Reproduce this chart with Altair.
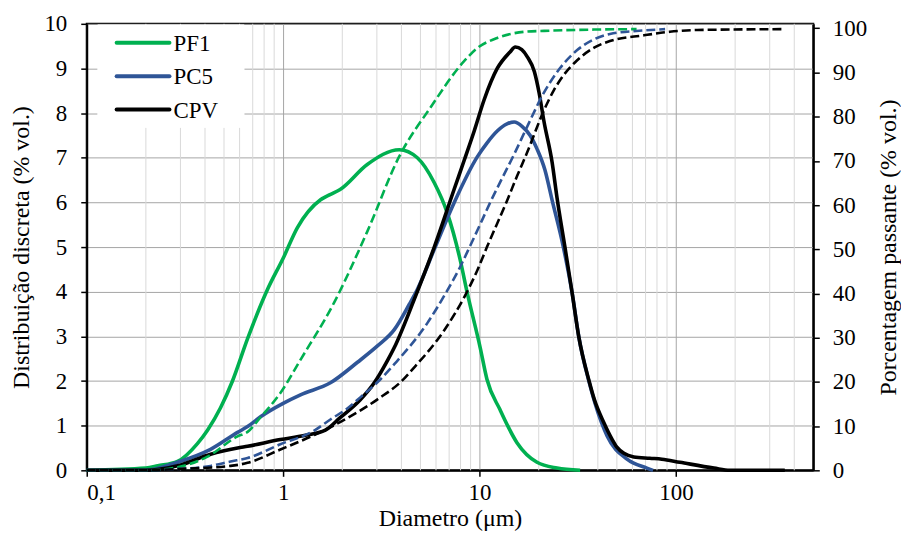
import altair as alt
import pandas as pd

series_names = ["PF1", "PC5", "CPV"]
series_colors = ["#00B050", "#2F5597", "#000000"]

# Discrete distribution (% vol.) - left axis
pf1_d_x = [0.1, 0.2, 0.23, 0.29, 0.366, 0.412, 0.48, 0.552, 0.659, 0.832, 1.0, 1.18, 1.55, 1.72, 1.95,
           2.68, 3.9, 4.82, 5.88, 6.84, 7.96, 8.65, 10.07, 10.9, 12.7, 15.5, 19.6, 24.8, 32.5]
pf1_d_y = [0, 0.05, 0.1, 0.2, 0.6, 0.9, 1.4, 2.0, 2.95, 4.05, 4.75, 5.43, 6.06, 6.17, 6.29,
           6.85, 7.18, 7.0, 6.44, 5.77, 4.72, 3.98, 2.75, 2.04, 1.36, 0.62, 0.18, 0.05, 0.0]

pc5_d_x = [0.1, 0.2, 0.29, 0.427, 0.586, 0.659, 0.767, 1.0, 1.225, 1.74, 2.39, 3.01, 3.68, 4.39, 4.82,
           5.88, 7.43, 9.73, 10.9, 12.3, 13.8, 15.0, 16.5, 18.1, 19.6, 21.5, 23.4, 26.7, 29.6, 32.0,
           36.1, 38.7, 44.6, 56.3, 71.1, 76.4]
pc5_d_y = [0, 0, 0.18, 0.47, 0.85, 0.98, 1.2, 1.5, 1.69, 1.96, 2.42, 2.78, 3.15, 3.72, 4.05,
           4.95, 6.0, 7.02, 7.33, 7.6, 7.76, 7.8, 7.7, 7.5, 7.2, 6.73, 6.05, 5.0, 3.97, 2.99,
           1.98, 1.5, 0.77, 0.25, 0.05, 0]

cpv_d_x = [0.1, 0.2, 0.29, 0.427, 0.586, 0.659, 0.968, 1.28, 1.64, 1.95, 2.47, 2.91, 3.39, 3.68, 4.65,
           5.88, 7.43, 8.36, 9.39, 10.55, 12.3, 14.3, 15.2, 16.4, 17.5, 19.0, 20.1, 21.3, 23.4, 24.8,
           27.2, 29.6, 32.0, 36.1, 38.3, 43.0, 47.2, 50.0, 54.3, 61.0, 73.6, 84.7, 104.7, 156, 188, 358]
cpv_d_y = [0, 0, 0.1, 0.36, 0.5, 0.54, 0.69, 0.78, 0.9, 1.18, 1.58, 1.96, 2.45, 2.75, 3.83,
           5.0, 6.3, 6.95, 7.6, 8.3, 9.0, 9.37, 9.48, 9.42, 9.26, 8.93, 8.45, 7.8, 6.9, 6.1,
           5.0, 3.97, 2.99, 2.0, 1.6, 1.06, 0.7, 0.52, 0.38, 0.3, 0.27, 0.25, 0.18, 0.05, 0, 0]

# Cumulative passing (% vol.) - right axis
pf1_c_x = [0.1, 0.2, 0.29, 0.412, 0.586, 0.659, 0.767, 0.968, 1.225, 1.82, 2.68, 3.9, 5.61, 8.36,
           9.73, 12.3, 17.0, 21.3, 38.3, 63]
pf1_c_y = [0, 0, 0.7, 3.1, 7.7, 8.7, 12, 17.5, 25, 38, 54, 71, 82, 92.6,
           95.5, 97.8, 99.2, 99.4, 99.7, 99.8]

pc5_c_x = [0.1, 0.2, 0.29, 0.427, 0.54, 0.659, 0.968, 1.44, 1.74, 2.12, 2.47, 3.13, 3.68, 5.42,
           6.61, 7.96, 8.96, 10.3, 11.3, 13.0, 15.0, 17.5, 21.3, 25.7, 31.3, 38.3, 46.1, 68.7, 88]
pc5_c_y = [0, 0, 0.3, 1.0, 2.0, 2.8, 5.9, 9.0, 11.5, 14.0, 16.5, 20.6, 24.0, 33.3,
           39.5, 46, 50.8, 56.6, 60.5, 66, 71.5, 77.8, 85.5, 91.0, 95, 97.5, 98.7, 99.5, 99.8]

cpv_c_x = [0.1, 0.2, 0.29, 0.54, 0.659, 0.968, 1.44, 2.12, 3.01, 4.14, 4.44, 6.61, 8.36, 9.73,
           10.9, 13.8, 15.5, 17.5, 21.3, 23.9, 26.9, 31.3, 38.3, 46.1, 68.7, 93, 128, 358]
cpv_c_y = [0, 0, 0.3, 1.0, 1.7, 4.7, 8.0, 11.8, 16.0, 20.8, 22.3, 31.7, 39.2, 45.2,
           50.5, 61, 66.5, 72, 81.5, 86, 89.5, 92.7, 95.6, 97.1, 98.4, 99.2, 99.6, 99.8]

x_major_ticks = [0.1, 1, 10, 100]
x_minor_grid = [0.2, 0.3, 0.4, 0.5, 0.6, 0.7, 0.8, 0.9,
                2, 3, 4, 5, 6, 7, 8, 9,
                20, 30, 40, 50, 60, 70, 80, 90,
                200, 300, 400]
y_left_ticks = list(range(0, 11))
y_right_ticks = list(range(0, 101, 10))

FONT = "Liberation Serif"
LABEL_SIZE = 23
TITLE_SIZE = 24


def long(name, xs, ys, col):
    return pd.DataFrame({"serie": name, "d": xs, col: ys})


disc = pd.concat([long("PF1", pf1_d_x, pf1_d_y, "v"),
                  long("PC5", pc5_d_x, pc5_d_y, "v"),
                  long("CPV", cpv_d_x, cpv_d_y, "v")], ignore_index=True)
cum = pd.concat([long("PF1", pf1_c_x, pf1_c_y, "p"),
                 long("PC5", pc5_c_x, pc5_c_y, "p"),
                 long("CPV", cpv_c_x, cpv_c_y, "p")], ignore_index=True)
minor = pd.DataFrame({"d": x_minor_grid})
legend_df = pd.DataFrame({"serie": series_names})

xscale = alt.Scale(type="log", domain=[0.1, 500], nice=False)
color = alt.Color("serie:N", scale=alt.Scale(domain=series_names, range=series_colors), legend=None)

xaxis = alt.Axis(values=x_major_ticks, title="Diametro (μm)",
                 labelExpr="replace(format(datum.value, '~g'), '.', ',')",
                 grid=True, gridColor="#A6A6A6", gridWidth=1,
                 domainColor="black", domainWidth=2, tickColor="black", tickWidth=1.5, tickSize=6,
                 labelFont=FONT, labelFontSize=LABEL_SIZE, labelColor="black", labelPadding=5,
                 titleFont=FONT, titleFontSize=TITLE_SIZE, titleFontWeight="normal", titleColor="black",
                 titlePadding=2)

grid_layer = alt.Chart(minor).mark_rule(color="#D9D9D9", strokeWidth=1).encode(
    x=alt.X("d:Q", scale=xscale, axis=xaxis)
)

disc_layer = alt.Chart(disc).mark_line(strokeWidth=3.6, interpolate="monotone").encode(
    x=alt.X("d:Q", scale=xscale, axis=xaxis),
    y=alt.Y("v:Q", scale=alt.Scale(domain=[0, 10], nice=False),
            axis=alt.Axis(values=y_left_ticks, title="Distribuição discreta (% vol.)",
                          grid=True, gridColor="#A6A6A6", gridWidth=1,
                          domainColor="black", domainWidth=2, tickColor="black", tickWidth=1.5,
                          tickSize=6, labelFont=FONT, labelFontSize=LABEL_SIZE, labelColor="black",
                          labelPadding=14, titleFont=FONT, titleFontSize=TITLE_SIZE,
                          titleFontWeight="normal", titleColor="black", titlePadding=10)),
    color=color,
    detail="serie:N",
)

cum_layer = alt.Chart(cum).mark_line(strokeWidth=2.6, strokeDash=[9, 4], interpolate="monotone").encode(
    x=alt.X("d:Q", scale=xscale, axis=xaxis),
    y=alt.Y("p:Q", scale=alt.Scale(domain=[0, 101], nice=False),
            axis=alt.Axis(values=y_right_ticks, orient="right", title="Porcentagem passante (% vol.)",
                          grid=False, domainColor="black", domainWidth=2, tickColor="black",
                          tickWidth=1.5, tickSize=6, labelFont=FONT, labelFontSize=LABEL_SIZE,
                          labelColor="black", labelPadding=13, titleFont=FONT, titleFontSize=TITLE_SIZE,
                          titleFontWeight="normal", titleColor="black", titlePadding=10,
                          titleAngle=270, titleBaseline="top")),
    color=color,
    detail="serie:N",
)

# Legend box drawn inside the plot area (top-left), like the original
legend_bg = alt.Chart(legend_df).mark_rect(fill="white", stroke=None).encode(
    x=alt.value(11), x2=alt.value(158), y=alt.value(1), y2=alt.value(104)
)
legend_layers = [legend_bg]
for i, name in enumerate(series_names):
    row = legend_df[legend_df["serie"] == name]
    ypos = 19 + 33.5 * i
    legend_layers.append(
        alt.Chart(row).mark_rule(strokeWidth=4, color=series_colors[i], strokeCap="round").encode(
            x=alt.value(30), x2=alt.value(83), y=alt.value(ypos)
        )
    )
    legend_layers.append(
        alt.Chart(row).mark_text(align="left", baseline="middle", font=FONT, fontSize=LABEL_SIZE,
                                 color="black", dy=1).encode(
            x=alt.value(87), y=alt.value(ypos), text="serie:N"
        )
    )

left = alt.layer(grid_layer, disc_layer)
chart = alt.layer(left, cum_layer, *legend_layers).resolve_scale(y="independent").properties(
    width=729, height=448, background="white",
    padding={"left": 2, "top": 4, "right": 0, "bottom": 0}
).configure_view(stroke="black", strokeWidth=2)

chart.save("out.html", embed_options={"renderer": "svg", "actions": False})
